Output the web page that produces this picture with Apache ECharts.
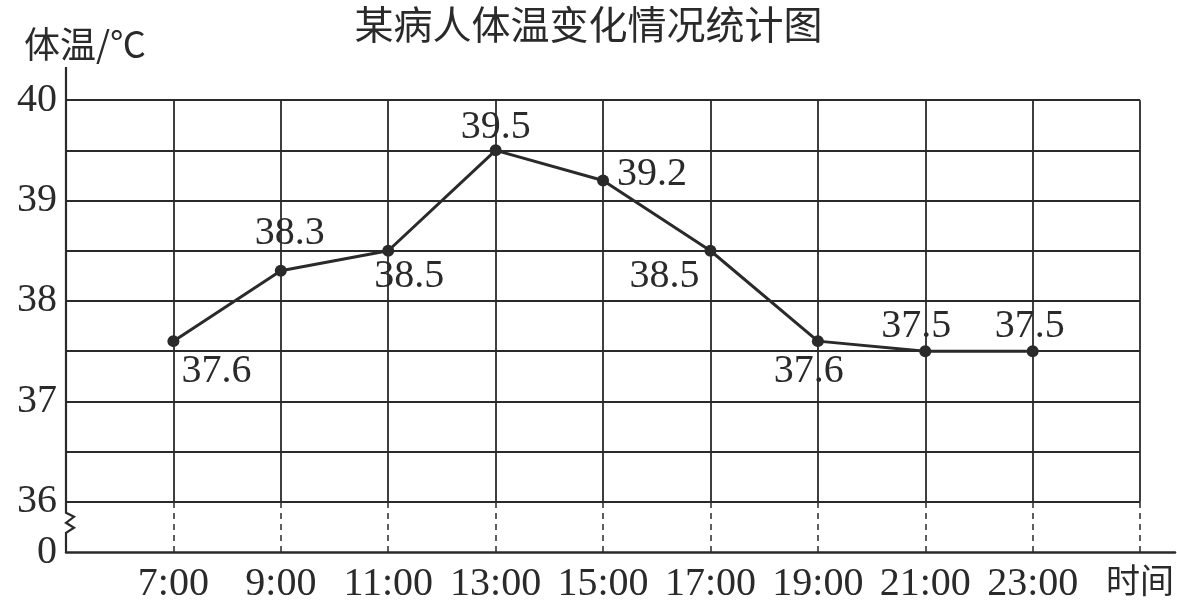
<!DOCTYPE html>
<html>
<head>
<meta charset="utf-8">
<script src="https://cdn.jsdelivr.net/npm/echarts@6/dist/echarts.min.js"></script>
<style>
html,body{margin:0;padding:0;background:#fff;}
#chart{width:1177px;height:604px;}
</style>
</head>
<body>
<div id="chart"></div>
<script>
// ---- data ----
const hours = [7, 9, 11, 13, 15, 17, 19, 21, 23];
const temps = [37.6, 38.3, 38.5, 39.5, 39.2, 38.5, 37.6, 37.5, 37.5];
const yTicks = [36, 36.5, 37, 37.5, 38, 38.5, 39, 39.5, 40];
const xGridHours = [5, 7, 9, 11, 13, 15, 17, 19, 21, 23, 25];
const yBreakValue = 35.5;   // axis value standing for "0"
const yStart = 36;
const yEnd = 40;

// ---- styles (label offsets per point) ----
const labelOffsets = [[43, 30], [9, -37], [21, 26], [0, -23], [49, -6], [-46, 26], [-9, 30], [-9, -25], [-3, -25]];

const INK = '#2a2a2a';
const serif = '"Liberation Serif","DejaVu Serif",serif';
const cjk = '"Noto Sans CJK SC","Noto Sans",sans-serif';

const chart = echarts.init(document.getElementById('chart'), null, {renderer: 'canvas'});

const solidLines = [];
yTicks.forEach(v => solidLines.push([{coord: [xGridHours[0], v]}, {coord: [xGridHours[xGridHours.length - 1], v]}]));
xGridHours.slice(1).forEach(h => solidLines.push([{coord: [h, yStart]}, {coord: [h, yEnd]}]));
const dashedLines = xGridHours.slice(1).map(h => [{coord: [h, yBreakValue]}, {coord: [h, yStart]}]);

const option = {
  animation: false,
  backgroundColor: '#fff',
  title: {
    text: '某病人体温变化情况统计图',
    left: 'center',
    top: 0,
    textStyle: {fontFamily: cjk, fontSize: 39, fontWeight: 'normal', color: INK}
  },
  grid: {left: 66, right: 2, top: 67, bottom: 50},
  xAxis: {
    type: 'value',
    min: 5,
    max: 25.65,
    interval: 2,
    axisLine: {show: true, lineStyle: {color: INK, width: 2.5}},
    axisTick: {show: false},
    splitLine: {show: false},
    axisLabel: {
      showMaxLabel: false,
      margin: 12,
      fontFamily: serif,
      fontSize: 40,
      color: INK,
      formatter: v => (hours.indexOf(v) >= 0 ? v + ':00' : '')
    }
  },
  yAxis: {
    type: 'value',
    min: yBreakValue,
    max: 40.33,
    interval: 0.5,
    axisLine: {show: false},
    axisTick: {show: false},
    splitLine: {show: false},
    axisLabel: {
      showMaxLabel: false,
      margin: 9,
      fontFamily: serif,
      fontSize: 40,
      color: INK,
      formatter: v => (Math.abs(v - yBreakValue) < 1e-6 ? '0' : (Number.isInteger(v) ? String(v) : ''))
    }
  },
  series: [
    {
      type: 'line',
      data: [],
      silent: true,
      markLine: {
        silent: true,
        symbol: ['none', 'none'],
        label: {show: false},
        lineStyle: {color: INK, width: 1.8, type: 'solid'},
        data: solidLines
      }
    },
    {
      type: 'line',
      data: [],
      silent: true,
      markLine: {
        silent: true,
        symbol: ['none', 'none'],
        label: {show: false},
        lineStyle: {color: INK, width: 1.5, type: [6, 5]},
        data: dashedLines
      }
    },
    {
      type: 'line',
      data: hours.map((h, i) => ({
        value: [h, temps[i]],
        label: {offset: labelOffsets[i]}
      })),
      symbol: 'circle',
      symbolSize: 12,
      itemStyle: {color: INK},
      lineStyle: {color: INK, width: 3},
      z: 5,
      label: {
        show: true,
        position: 'inside',
        fontFamily: serif,
        fontSize: 40,
        color: INK,
        formatter: p => p.value[1].toFixed(1)
      }
    }
  ]
};

chart.setOption(option);

// y axis line with break symbol, and extra texts, positioned through the axes' scales
const pTop = chart.convertToPixel({gridIndex: 0}, [5, 40.33]);
const p36 = chart.convertToPixel({gridIndex: 0}, [5, yStart]);
const p0 = chart.convertToPixel({gridIndex: 0}, [5, yBreakValue]);
const pEnd = chart.convertToPixel({gridIndex: 0}, [25, yBreakValue]);
const x0 = p36[0];
const b = p36[1] + 11;
chart.setOption({
  graphic: [
    {
      type: 'polyline',
      shape: {points: [
        [x0, pTop[1]], [x0, b], [x0 + 8, b + 4], [x0, b + 10], [x0 + 8, b + 15], [x0, b + 20], [x0, p0[1]]
      ]},
      style: {stroke: INK, lineWidth: 2.2, fill: null},
      z: 10
    },
    {
      type: 'text',
      left: 24,
      top: 26,
      style: {text: '体温/℃', font: '36px ' + cjk, fill: INK}
    },
    {
      type: 'text',
      x: pEnd[0],
      y: p0[1] + 28,
      style: {text: '时间', font: '34px ' + cjk, fill: INK, align: 'center', verticalAlign: 'middle'}
    }
  ]
});
</script>
</body>
</html>
